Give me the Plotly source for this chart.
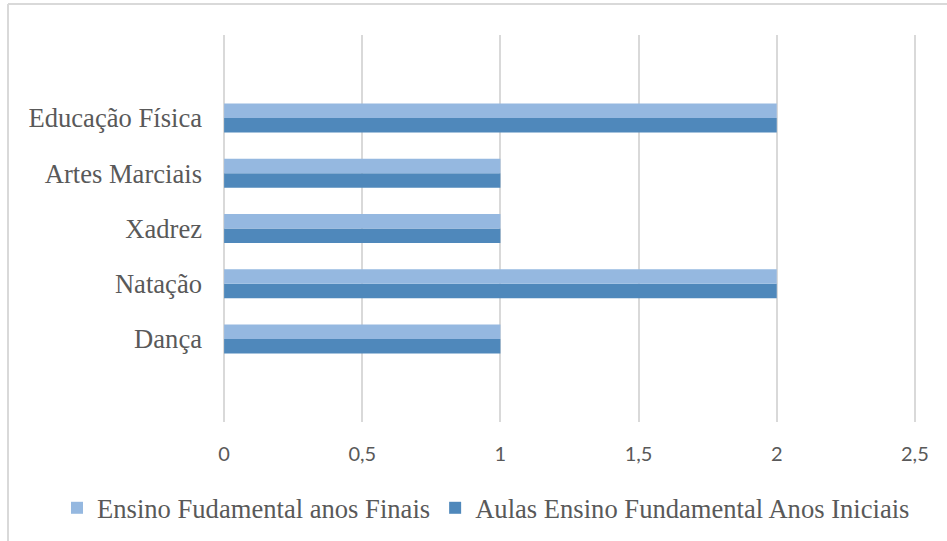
import plotly.graph_objects as go

categories = ["Dança", "Natação", "Xadrez", "Artes Marciais", "Educação Física"]
finais = [1, 2, 1, 1, 2]
iniciais = [1, 2, 1, 1, 2]
series_names = ["Ensino Fudamental anos Finais", "Aulas Ensino Fundamental Anos Iniciais"]
tick_vals = [0, 0.5, 1, 1.5, 2, 2.5]
tick_text = ["0", "0,5", "1", "1,5", "2", "2,5"]

SERIF = "Liberation Serif"
TICKFONT = "Lato"

fig = go.Figure()
fig.add_trace(go.Bar(y=categories, x=iniciais, orientation="h", name=series_names[1],
                     marker=dict(color="#4F88BB", line=dict(width=0)), legendrank=2))
fig.add_trace(go.Bar(y=categories, x=finais, orientation="h", name=series_names[0],
                     marker=dict(color="#95B8E0", line=dict(width=0)), legendrank=1))

W, H = 947, 541
L, R, T, B = 223, 31, 35, 119
pw = W - L - R
ph = H - T - B

def px(x):
    return (x - L) / pw

def py(y):
    return (H - B - y) / ph

border = dict(color="#D9D9D9", width=2)

fig.update_layout(
    width=W, height=H,
    margin=dict(l=L, r=R, t=T, b=B, autoexpand=False),
    barmode="group",
    bargap=0.475,
    bargroupgap=0,
    plot_bgcolor="white",
    paper_bgcolor="white",
    font=dict(family=SERIF, color="#595959", size=26.6),
    xaxis=dict(range=[-0.004, 2.504], tickvals=tick_vals, ticktext=tick_text,
               showgrid=True, gridcolor="#D9D9D9", gridwidth=1.5,
               zeroline=False, showline=False, ticks="", ticklabelstandoff=18,
               tickfont=dict(family=TICKFONT, size=20, color="#595959")),
    yaxis=dict(range=[-1.5, 5.5], showgrid=False, zeroline=False, showline=False,
               ticks="", ticklabelstandoff=20,
               tickfont=dict(family=SERIF, size=26.6, color="#595959")),
    legend=dict(orientation="h", x=px(57), xanchor="left",
                y=py(508), yanchor="middle", bgcolor="rgba(0,0,0,0)",
                font=dict(family=SERIF, size=26.6, color="#595959"),
                itemwidth=30, traceorder="normal"),
    showlegend=True,
    shapes=[
        dict(type="line", xref="paper", yref="paper",
             x0=px(8), x1=px(8), y0=py(541), y1=py(4), line=border, layer="below"),
        dict(type="line", xref="paper", yref="paper",
             x0=px(8), x1=px(947), y0=py(4), y1=py(4), line=border, layer="below"),
    ],
)
fig.write_html("out.html")
